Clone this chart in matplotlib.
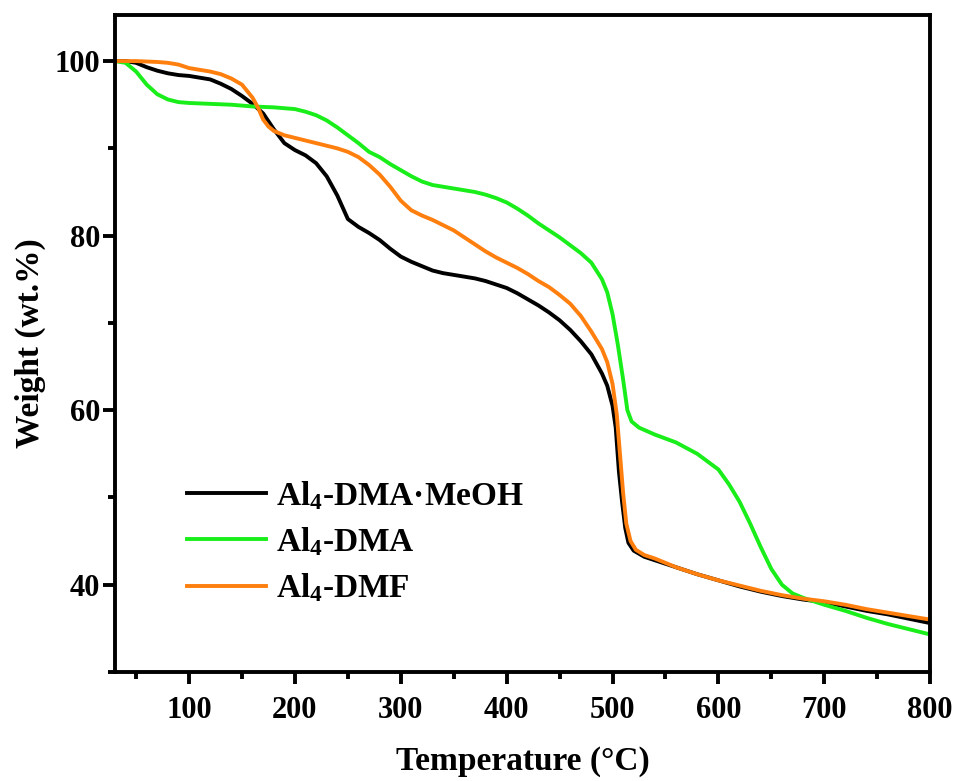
import matplotlib
matplotlib.use("Agg")
import matplotlib.pyplot as plt

plt.rcParams['font.family'] = ['Liberation Serif', 'DejaVu Serif']
plt.rcParams['font.weight'] = 'bold'
plt.rcParams['mathtext.fontset'] = 'custom'
plt.rcParams['mathtext.rm'] = 'Liberation Serif:bold'
plt.rcParams['mathtext.it'] = 'Liberation Serif:bold'
plt.rcParams['mathtext.bf'] = 'Liberation Serif:bold'

############# TGA curves ###################################

t_meoh = [30, 40, 50, 60, 70, 80, 90, 100, 110, 120, 130, 140, 150, 160, 170, 180, 190, 200,
          210, 220, 230, 240, 250, 260, 270, 280, 290, 300, 310, 320, 330, 340, 350, 360, 370,
          380, 390, 400, 410, 420, 430, 440, 450, 460, 470, 480, 490, 495, 500, 503, 506, 509,
          512, 515, 520, 530, 540, 560, 580, 600, 620, 640, 660, 680, 700, 720, 740, 760, 780, 800]
w_meoh = [100, 100, 99.8, 99.3, 98.9, 98.6, 98.4, 98.3, 98.1, 97.9, 97.4, 96.8, 96.0, 95.1, 94.0,
          92.2, 90.6, 89.8, 89.2, 88.3, 86.8, 84.6, 81.9, 81.0, 80.3, 79.5, 78.5, 77.6, 77.0, 76.5,
          76.0, 75.7, 75.5, 75.3, 75.1, 74.8, 74.4, 74.0, 73.4, 72.7, 72.0, 71.2, 70.3, 69.2, 67.9,
          66.4, 64.2, 62.8, 60.5, 58.0, 53.0, 49.5, 46.5, 44.8, 43.9, 43.2, 42.8, 42.0, 41.2, 40.5,
          39.8, 39.2, 38.7, 38.3, 38.0, 37.5, 37.0, 36.6, 36.1, 35.6]

t_dma = [30, 40, 50, 60, 70, 80, 90, 100, 120, 140, 160, 180, 200, 210, 220, 230, 240, 250, 260,
         270, 280, 290, 300, 310, 320, 330, 340, 350, 360, 370, 380, 390, 400, 410, 420, 430, 440,
         450, 460, 470, 480, 490, 495, 500, 505, 510, 514, 518, 525, 540, 560, 580, 600, 610, 620,
         630, 640, 650, 660, 670, 680, 700, 720, 740, 760, 780, 800]
w_dma = [100, 99.8, 98.8, 97.3, 96.2, 95.6, 95.3, 95.2, 95.1, 95.0, 94.8, 94.7, 94.5, 94.2, 93.8,
         93.2, 92.4, 91.5, 90.6, 89.6, 89.0, 88.2, 87.5, 86.8, 86.2, 85.8, 85.6, 85.4, 85.2, 85.0,
         84.7, 84.3, 83.8, 83.1, 82.3, 81.4, 80.6, 79.8, 78.9, 78.0, 76.9, 75.0, 73.5, 71.0, 67.5,
         63.5, 60.0, 58.7, 58.0, 57.2, 56.3, 55.0, 53.2, 51.5, 49.5, 47.0, 44.3, 41.8, 40.0, 39.0,
         38.5, 37.7, 37.0, 36.2, 35.5, 34.9, 34.3]

t_dmf = [30, 50, 70, 80, 90, 100, 110, 120, 130, 140, 150, 160, 165, 170, 175, 180, 190, 200, 210,
         220, 230, 240, 250, 260, 270, 280, 290, 300, 310, 320, 330, 340, 350, 360, 370, 380, 390,
         400, 410, 420, 430, 440, 450, 460, 470, 480, 490, 495, 500, 504, 507, 510, 513, 517, 522,
         530, 540, 560, 580, 600, 620, 640, 660, 680, 700, 720, 740, 760, 780, 800]
w_dmf = [100, 100, 99.9, 99.8, 99.6, 99.2, 99.0, 98.8, 98.5, 98.0, 97.3, 95.8, 94.7, 93.3, 92.5,
         92.0, 91.5, 91.2, 90.9, 90.6, 90.3, 90.0, 89.6, 89.0, 88.1, 87.0, 85.6, 84.0, 82.9, 82.3,
         81.8, 81.2, 80.6, 79.8, 79.0, 78.2, 77.5, 76.9, 76.3, 75.6, 74.8, 74.1, 73.2, 72.2, 70.8,
         69.0, 67.0, 65.5, 63.0, 59.5, 55.0, 50.5, 47.0, 45.0, 44.0, 43.4, 43.0, 42.0, 41.2, 40.5,
         39.9, 39.3, 38.8, 38.4, 38.1, 37.7, 37.2, 36.8, 36.4, 36.0]

labels = ["Al$_4$-DMA\u00b7MeOH", "Al$_4$-DMA", "Al$_4$-DMF"]
colors = ["black", "#1aee1a", "#ff7f0e"]


fig = plt.figure(figsize=(9.54, 7.81), dpi=100)
ax = fig.add_axes([0.1205, 0.1396, 0.8545, 0.8414])

ax.plot(t_meoh, w_meoh, color=colors[0], lw=2.8, label=labels[0])
ax.plot(t_dma, w_dma, color=colors[1], lw=2.8, label=labels[1])
ax.plot(t_dmf, w_dmf, color=colors[2], lw=2.8, label=labels[2])

ax.set_xlim(30, 800)
ax.set_ylim(30, 105.3)
ax.set_xticks([100, 200, 300, 400, 500, 600, 700, 800])
ax.set_xticks([50, 150, 250, 350, 450, 550, 650, 750], minor=True)
ax.set_yticks([40, 60, 80, 100])
ax.set_yticks([30, 50, 70, 90], minor=True)

for s in ax.spines.values():
    s.set_linewidth(2.8)

ax.tick_params(which='major', direction='out', length=8.5, width=2.8, labelsize=22)
ax.tick_params(axis='x', which='major', pad=9)
ax.tick_params(axis='y', which='major', pad=2)
ax.tick_params(which='minor', direction='out', length=5, width=2.8)

ax.set_xlabel("Temperature (\u00b0C)", fontsize=24, fontweight='bold', labelpad=15)
ax.set_ylabel("Weight (wt.%)", fontsize=24, fontweight='bold', labelpad=6)

leg = ax.legend(loc='upper left', bbox_to_anchor=(0.052, 0.339), frameon=False,
                fontsize=24, handlelength=2.35, handletextpad=0.3, labelspacing=0.4)

plt.savefig("out.png", dpi=100)
